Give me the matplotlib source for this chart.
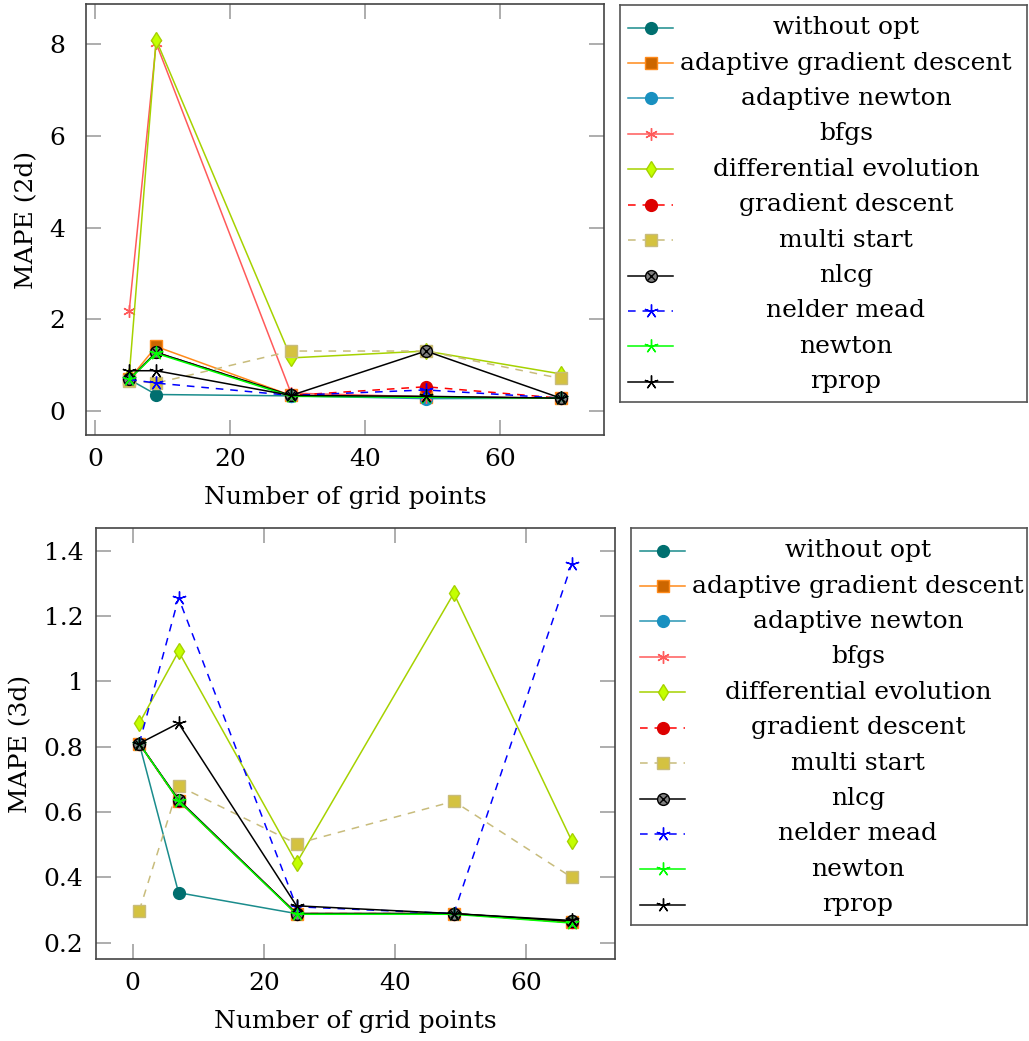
import matplotlib
matplotlib.use("Agg")
import matplotlib.pyplot as plt

plt.rcParams['font.family'] = ['DejaVu Serif']
plt.rcParams['font.size'] = 18

# MAPE per optimizer, 2d grids
x_2d = [5, 9, 29, 49, 69]
without_opt_2d = [0.68, 0.35, 0.32, 0.30, 0.27]
adaptive_gd_2d = [0.68, 1.40, 0.33, 0.30, 0.27]
adaptive_newton_2d = [0.68, 1.27, 0.32, 0.26, 0.27]
bfgs_2d = [2.17, 8.03, 0.38, 0.30, 0.27]
diff_evo_2d = [0.75, 8.10, 1.15, 1.30, 0.80]
gradient_descent_2d = [0.68, 1.27, 0.33, 0.52, 0.27]
multi_start_2d = [0.65, 0.60, 1.30, 1.30, 0.70]
nlcg_2d = [0.68, 1.27, 0.33, 1.30, 0.27]
nelder_mead_2d = [0.68, 0.60, 0.33, 0.45, 0.27]
newton_2d = [0.68, 1.25, 0.31, 0.29, 0.27]
rprop_2d = [0.87, 0.87, 0.33, 0.31, 0.27]

# MAPE per optimizer, 3d grids
x_3d = [1, 7, 25, 49, 67]
without_opt_3d = [0.81, 0.353, 0.289, 0.289, 0.265]
adaptive_gd_3d = [0.81, 0.635, 0.289, 0.289, 0.262]
adaptive_newton_3d = [0.81, 0.635, 0.289, 0.289, 0.262]
bfgs_3d = [0.81, 0.635, 0.289, 0.289, 0.262]
diff_evo_3d = [0.872, 1.092, 0.444, 1.27, 0.512]
gradient_descent_3d = [0.81, 0.635, 0.289, 0.289, 0.262]
multi_start_3d = [0.298, 0.68, 0.503, 0.633, 0.40]
nlcg_3d = [0.81, 0.638, 0.289, 0.289, 0.265]
nelder_mead_3d = [0.81, 1.256, 0.31, 0.289, 1.36]
newton_3d = [0.81, 0.635, 0.287, 0.287, 0.260]
rprop_3d = [0.81, 0.872, 0.313, 0.289, 0.268]

names = ['without opt', 'adaptive gradient descent', 'adaptive newton', 'bfgs',
         'differential evolution', 'gradient descent', 'multi start', 'nlcg',
         'nelder mead', 'newton', 'rprop']

STAR5 = (5, 2, 0)
STAR6 = (6, 2, 0)
DASH = (0, (5, 4.5))
# line colour, linestyle, marker, marker face, marker edge, marker size
styles = [
    ('#1a8c8c', '-', 'o', '#006f6f', '#006f6f', 8.5),
    ('#ff8a1a', '-', 's', '#cc6600', '#ff8a1a', 8.5),
    ('#2896b4', '-', 'o', '#1890c0', '#1890c0', 8.5),
    ('#ff5a5a', '-', STAR6, '#ff5a5a', '#ff5a5a', 9),
    ('#a6d200', '-', 'd', '#c4ff00', '#a6d200', 8.5),
    ('#ff0000', DASH, 'o', '#dd0000', '#dd0000', 8.5),
    ('#c8bc7c', DASH, 's', '#d4c240', '#c8bc7c', 9),
    ('#000000', '-', 'o', '#808080', '#000000', 8.5),
    ('#0000ff', DASH, STAR5, '#0000ff', '#0000ff', 10),
    ('#00ff00', '-', STAR5, '#00ff00', '#00ff00', 10),
    ('#000000', '-', STAR5, '#000000', '#000000', 10),
]


def draw_series(ax, x, series):
    for vals, st in zip(series, styles):
        color, ls, mk, mfc, mec, ms = st
        ax.plot(x, vals, color=color, linestyle=ls, linewidth=1.1,
                marker=mk, markerfacecolor=mfc, markeredgecolor=mec,
                markersize=ms, markeredgewidth=1.0)
        if mfc == '#808080':
            # otimes mark for nlcg
            ax.plot(x, vals, linestyle='none', marker='x', color='black',
                    markersize=6, markeredgewidth=1.0)


def style_axes(ax, xlim, ylim, xticks, yticks, yticklabels, ylabel, ypad):
    ax.set_xlim(*xlim)
    ax.set_ylim(*ylim)
    ax.set_xticks(xticks)
    ax.set_yticks(yticks)
    ax.set_yticklabels(yticklabels)
    ax.tick_params(direction='in', length=11, width=1.2, color='#a0a0a0',
                   top=True, right=True, pad=9)
    ax.tick_params(axis='y', pad=ypad)
    for s in ax.spines.values():
        s.set_color('#444444')
        s.set_linewidth(1.2)
    ax.set_xlabel('Number of grid points', labelpad=11)
    ax.set_ylabel(ylabel, labelpad=8)


def draw_legend(fig, rect, line_x, text_x):
    lax = fig.add_axes(rect)
    lax.set_xlim(0, 1)
    lax.set_ylim(0, 1)
    lax.set_xticks([])
    lax.set_yticks([])
    for s in lax.spines.values():
        s.set_color('#555555')
        s.set_linewidth(1.2)
    top, step = 0.943, 0.0892
    for i, (name, st) in enumerate(zip(names, styles)):
        color, ls, mk, mfc, mec, ms = st
        y = top - i * step
        lax.plot(line_x, [y, y], color=color, linestyle=ls, linewidth=1.1)
        lax.plot([sum(line_x) / 2], [y], linestyle='none', marker=mk,
                 markerfacecolor=mfc, markeredgecolor=mec, markersize=ms,
                 markeredgewidth=1.0)
        if mfc == '#808080':
            lax.plot([sum(line_x) / 2], [y], linestyle='none', marker='x',
                     color='black', markersize=6, markeredgewidth=1.0)
        lax.text(text_x, y, name, ha='center', va='center', fontsize=18)


def main():
    fig = plt.figure(figsize=(10.29, 10.41), dpi=100)
    W, H = 1029.0, 1041.0

    ax1 = fig.add_axes([86 / W, 1 - 435 / H, (604 - 86) / W, (435 - 4) / H])
    draw_series(ax1, x_2d, [without_opt_2d, adaptive_gd_2d, adaptive_newton_2d,
                            bfgs_2d, diff_evo_2d, gradient_descent_2d,
                            multi_start_2d, nlcg_2d, nelder_mead_2d,
                            newton_2d, rprop_2d])
    style_axes(ax1, (-1.4, 75.4), (-0.535, 8.885), [0, 20, 40, 60],
               [0, 2, 4, 6, 8], ['0', '2', '4', '6', '8'], 'MAPE (2d)', 15)

    ax2 = fig.add_axes([96 / W, 1 - 959 / H, (615 - 96) / W, (959 - 528) / H])
    draw_series(ax2, x_3d, [without_opt_3d, adaptive_gd_3d, adaptive_newton_3d,
                            bfgs_3d, diff_evo_3d, gradient_descent_3d,
                            multi_start_3d, nlcg_3d, nelder_mead_3d,
                            newton_3d, rprop_3d])
    style_axes(ax2, (-5.6, 73.6), (0.15, 1.47), [0, 20, 40, 60],
               [0.2, 0.4, 0.6, 0.8, 1.0, 1.2, 1.4],
               ['0.2', '0.4', '0.6', '0.8', '1', '1.2', '1.4'], 'MAPE (3d)', 9)

    # legend boxes
    lw1 = 1027 - 620
    draw_legend(fig, [620 / W, 1 - 402 / H, lw1 / W, (402 - 5) / H],
                [(628 - 620) / lw1, (673 - 620) / lw1], (846 - 620) / lw1)
    lw2 = 1027 - 631
    draw_legend(fig, [631 / W, 1 - 925 / H, lw2 / W, (925 - 528) / H],
                [(640 - 631) / lw2, (685 - 631) / lw2], (858 - 631) / lw2)

    fig.savefig('out.png', dpi=100)


if __name__ == '__main__':
    main()
